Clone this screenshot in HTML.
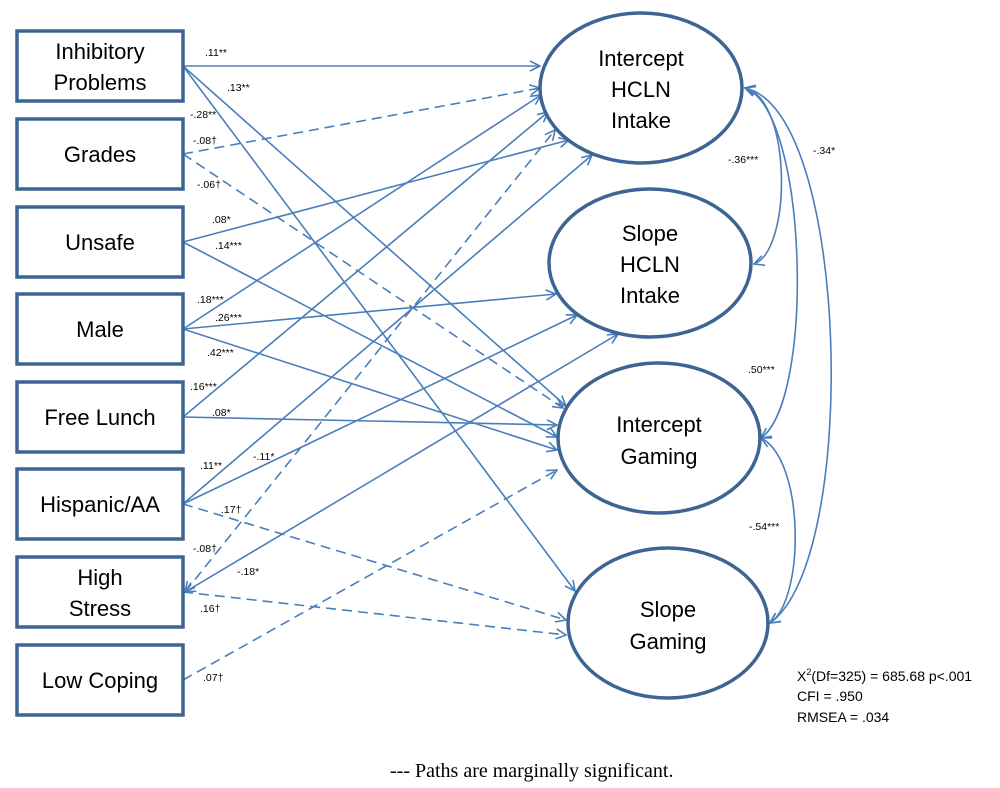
<!DOCTYPE html>
<html><head><meta charset="utf-8"><style>
html,body{margin:0;padding:0;background:#fff;}
svg{display:block;}
.bx{fill:#fff;stroke:#3d6594;stroke-width:3.5;}
.el{fill:#fff;stroke:#3d6594;stroke-width:3.5;}
.ln{stroke:#4a7ebb;stroke-width:1.6;fill:none;}
.d{stroke-dasharray:10,6;}
.t{font-family:"Liberation Sans",sans-serif;font-size:22px;fill:#000;text-anchor:middle;}
.s{font-family:"Liberation Sans",sans-serif;font-size:10.5px;fill:#000;}
.st{font-family:"Liberation Sans",sans-serif;font-size:14px;fill:#000;}
</style></head><body>
<svg width="1000" height="788" viewBox="0 0 1000 788" xmlns="http://www.w3.org/2000/svg">
<defs>
<marker id="a" viewBox="0 0 12 12" refX="11" refY="6" markerWidth="12" markerHeight="12" markerUnits="userSpaceOnUse" orient="auto-start-reverse">
<path d="M1,1 L11,6 L1,11" fill="none" stroke="#4a7ebb" stroke-width="1.6"/>
</marker>
</defs>
<g class="ln" marker-end="url(#a)">
<line x1="183" y1="66" x2="540" y2="66"/>
<line x1="183" y1="66" x2="566" y2="406"/>
<line x1="183" y1="66" x2="575" y2="591"/>
<line class="d" x1="183" y1="154" x2="540" y2="88"/>
<line class="d" x1="183" y1="154" x2="563" y2="408"/>
<line x1="183" y1="242" x2="569" y2="140"/>
<line x1="183" y1="242" x2="557" y2="437"/>
<line x1="183" y1="329" x2="541" y2="95"/>
<line x1="183" y1="329" x2="556" y2="294"/>
<line x1="183" y1="329" x2="557" y2="450"/>
<line x1="183" y1="417" x2="548" y2="112"/>
<line x1="183" y1="417" x2="557" y2="425"/>
<line x1="183" y1="504" x2="592" y2="155"/>
<line x1="183" y1="504" x2="577" y2="315"/>
<line class="d" x1="183" y1="504" x2="566" y2="620"/>
<line class="d" x1="183" y1="592" x2="566" y2="635"/>
<line class="d" x1="183" y1="680" x2="557" y2="470"/>
</g>
<g class="ln" marker-start="url(#a)" marker-end="url(#a)">
<line class="d" x1="185" y1="592" x2="555" y2="130"/>
<line x1="185" y1="592" x2="618" y2="334"/>
<path d="M745,88 C792,100 792,250 754,264"/>
<path d="M745,88 C808,110 815,400 761,438"/>
<path d="M745,88 C850,110 860,560 770,623"/>
<path d="M761,438 C805,460 805,600 770,623"/>
</g>
<rect class="bx" x="17" y="31" width="166" height="70"/>
<rect class="bx" x="17" y="119" width="166" height="70"/>
<rect class="bx" x="17" y="207" width="166" height="70"/>
<rect class="bx" x="17" y="294" width="166" height="70"/>
<rect class="bx" x="17" y="382" width="166" height="70"/>
<rect class="bx" x="17" y="469" width="166" height="70"/>
<rect class="bx" x="17" y="557" width="166" height="70"/>
<rect class="bx" x="17" y="645" width="166" height="70"/>
<text class="t" x="100" y="59">Inhibitory</text>
<text class="t" x="100" y="90">Problems</text>
<text class="t" x="100" y="162">Grades</text>
<text class="t" x="100" y="250">Unsafe</text>
<text class="t" x="100" y="337">Male</text>
<text class="t" x="100" y="425">Free Lunch</text>
<text class="t" x="100" y="512">Hispanic/AA</text>
<text class="t" x="100" y="585">High</text>
<text class="t" x="100" y="616">Stress</text>
<text class="t" x="100" y="688">Low Coping</text>
<ellipse class="el" cx="641" cy="88" rx="101" ry="75"/>
<ellipse class="el" cx="650" cy="263" rx="101" ry="74"/>
<ellipse class="el" cx="659" cy="438" rx="101" ry="75"/>
<ellipse class="el" cx="668" cy="623" rx="100" ry="75"/>
<text class="t" x="641" y="66">Intercept</text>
<text class="t" x="641" y="97">HCLN</text>
<text class="t" x="641" y="128">Intake</text>
<text class="t" x="650" y="241">Slope</text>
<text class="t" x="650" y="272">HCLN</text>
<text class="t" x="650" y="303">Intake</text>
<text class="t" x="659" y="432">Intercept</text>
<text class="t" x="659" y="464">Gaming</text>
<text class="t" x="668" y="617">Slope</text>
<text class="t" x="668" y="649">Gaming</text>
<text class="s" x="205" y="56">.11**</text>
<text class="s" x="227" y="91">.13**</text>
<text class="s" x="190" y="118">-.28**</text>
<text class="s" x="193" y="144">-.08†</text>
<text class="s" x="197" y="188">-.06†</text>
<text class="s" x="212" y="223">.08*</text>
<text class="s" x="215" y="249">.14***</text>
<text class="s" x="197" y="303">.18***</text>
<text class="s" x="215" y="321">.26***</text>
<text class="s" x="207" y="356">.42***</text>
<text class="s" x="190" y="390">.16***</text>
<text class="s" x="212" y="416">.08*</text>
<text class="s" x="200" y="469">.11**</text>
<text class="s" x="253" y="460">-.11*</text>
<text class="s" x="221" y="513">.17†</text>
<text class="s" x="193" y="552">-.08†</text>
<text class="s" x="237" y="575">-.18*</text>
<text class="s" x="200" y="612">.16†</text>
<text class="s" x="203" y="681">.07†</text>
<text class="s" x="728" y="163">-.36***</text>
<text class="s" x="813" y="154">-.34*</text>
<text class="s" x="748" y="373">.50***</text>
<text class="s" x="749" y="530">-.54***</text>
<text class="st" x="797" y="681">X<tspan font-size="9" dy="-6">2</tspan><tspan dy="6">(Df=325) = 685.68 p&lt;.001</tspan></text>
<text class="st" x="797" y="701">CFI = .950</text>
<text class="st" x="797" y="722">RMSEA = .034</text>
<text x="390" y="777" font-family="Liberation Serif,serif" font-size="20" fill="#000">--- Paths are marginally significant.</text>
</svg>
</body></html>
